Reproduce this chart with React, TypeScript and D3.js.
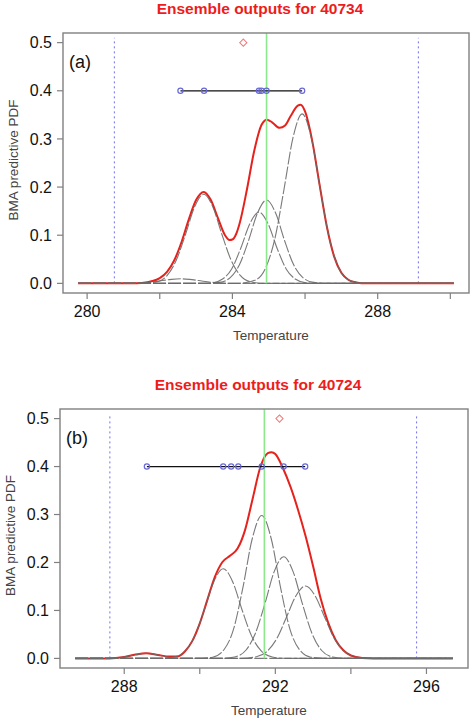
import React from "react";
import * as d3 from "d3";

type Pt = [number, number];

// ---- panel (a): station 40734 ----
const titleA = "Ensemble outputs for 40734";
const xTicksA = [280, 282, 284, 286, 288, 290];
const xLabelsA = [280, 284, 288];
const spanA: Pt = [279.75, 290.1];
const membersA = [282.57, 283.22, 284.73, 284.8, 284.94, 285.92];
const boundsA = [280.75, 289.12];
const obsA = 284.94;
const meanA = 284.3;

const redA: Pt[] = [
  [281.2, 0], [281.5, 0.001], [281.8, 0.005], [282.0, 0.011], [282.2, 0.024],
  [282.4, 0.048], [282.6, 0.086], [282.8, 0.133], [283.0, 0.173], [283.21, 0.19],
  [283.4, 0.174], [283.6, 0.136], [283.8, 0.0995], [283.92, 0.09], [284.0, 0.091],
  [284.1, 0.102], [284.2, 0.125], [284.4, 0.195], [284.6, 0.275], [284.8, 0.329],
  [284.95, 0.34], [285.1, 0.334], [285.3, 0.323], [285.45, 0.328], [285.6, 0.347],
  [285.8, 0.369], [285.88, 0.371], [286.0, 0.357], [286.2, 0.295], [286.4, 0.205],
  [286.6, 0.118], [286.8, 0.056], [287.0, 0.022], [287.2, 0.007], [287.4, 0.002],
  [287.7, 0],
];
const compsA: Pt[][] = [
  [[281.3, 0], [281.7, 0.0021], [282.07, 0.0058], [282.32, 0.0083], [282.57, 0.0095],
   [282.82, 0.0083], [283.07, 0.0058], [283.44, 0.0021], [283.84, 0]],
  [[281.51, 0], [281.91, 0.003], [282.21, 0.017], [282.46, 0.049], [282.71, 0.102],
   [282.96, 0.159], [283.21, 0.185], [283.46, 0.159], [283.71, 0.102], [283.96, 0.049],
   [284.21, 0.017], [284.51, 0.003], [284.91, 0]],
  [[283.03, 0], [283.43, 0.001], [283.73, 0.009], [283.98, 0.03], [284.23, 0.073],
   [284.48, 0.124], [284.73, 0.148], [284.98, 0.124], [285.23, 0.073], [285.48, 0.03],
   [285.73, 0.009], [286.03, 0.001], [286.43, 0]],
  [[283.24, 0], [283.64, 0.002], [283.94, 0.012], [284.19, 0.038], [284.44, 0.088],
   [284.69, 0.146], [284.94, 0.173], [285.19, 0.146], [285.44, 0.088], [285.69, 0.038],
   [285.94, 0.012], [286.24, 0.002], [286.64, 0]],
  [[283.82, 0], [284.22, 0.0004], [284.62, 0.0065], [284.92, 0.033], [285.17, 0.093],
   [285.42, 0.195], [285.67, 0.303], [285.92, 0.352], [286.17, 0.303], [286.42, 0.195],
   [286.67, 0.093], [286.92, 0.033], [287.22, 0.0065], [287.62, 0.0004], [288.02, 0]],
];

// ---- panel (b): station 40724 ----
const titleB = "Ensemble outputs for 40724";
const xTicksB = [288, 290, 292, 294, 296];
const xLabelsB = [288, 292, 296];
const spanB: Pt = [286.7, 296.7];
const membersB = [288.6, 290.62, 290.83, 291.02, 291.64, 292.22, 292.79];
const boundsB = [287.62, 295.74];
const obsB = 291.71;
const meanB = 292.11;

const redB: Pt[] = [
  [287.6, 0], [288.0, 0.003], [288.3, 0.008], [288.58, 0.0105], [288.9, 0.007],
  [289.2, 0.004], [289.4, 0.004], [289.6, 0.014], [289.8, 0.036], [290.0, 0.073],
  [290.2, 0.122], [290.4, 0.17], [290.6, 0.201], [290.8, 0.214], [291.0, 0.229],
  [291.2, 0.268], [291.4, 0.333], [291.6, 0.398], [291.8, 0.428], [291.9, 0.43],
  [292.0, 0.426], [292.2, 0.397], [292.4, 0.358], [292.6, 0.31], [292.8, 0.255],
  [293.0, 0.192], [293.2, 0.125], [293.4, 0.074], [293.6, 0.038], [293.8, 0.017],
  [294.0, 0.006], [294.3, 0.001], [294.6, 0],
];
const compsB: Pt[][] = [
  [[287.6, 0], [288.0, 0.003], [288.3, 0.008], [288.58, 0.0105], [288.9, 0.007],
   [289.2, 0.002], [289.6, 0]],
  [[288.92, 0], [289.32, 0.003], [289.62, 0.016], [289.87, 0.047], [290.12, 0.101],
   [290.37, 0.16], [290.62, 0.187], [290.87, 0.16], [291.12, 0.101], [291.37, 0.047],
   [291.62, 0.016], [291.92, 0.003], [292.32, 0]],
  [[289.94, 0], [290.34, 0.0025], [290.64, 0.018], [290.89, 0.06], [291.14, 0.147],
   [291.39, 0.25], [291.64, 0.298], [291.89, 0.25], [292.14, 0.147], [292.39, 0.06],
   [292.64, 0.018], [292.94, 0.0025], [293.34, 0]],
  [[290.52, 0], [290.92, 0.003], [291.22, 0.017], [291.47, 0.052], [291.72, 0.113],
   [291.97, 0.181], [292.22, 0.212], [292.47, 0.181], [292.72, 0.113], [292.97, 0.052],
   [293.22, 0.017], [293.52, 0.003], [293.92, 0]],
  [[291.1, 0], [291.5, 0.0035], [291.8, 0.016], [292.05, 0.043], [292.3, 0.087],
   [292.55, 0.131], [292.8, 0.151], [293.05, 0.131], [293.3, 0.087], [293.55, 0.043],
   [293.8, 0.016], [294.1, 0.0035], [294.5, 0]],
];

const yTicks = [0, 0.1, 0.2, 0.3, 0.4, 0.5];

const font = "'Liberation Sans', Arial, Helvetica, sans-serif";

function Panel(props: any) {
  const { title, tag, left, right, top, bottom, span, xTicks, xLabels,
    red, comps, members, bounds, obs, mean } = props;

  // R style 4% padding around data range
  const pad = (span[1] - span[0]) * 0.04;
  const x = d3.scaleLinear().domain([span[0] - pad, span[1] + pad]).range([left, right]);
  const y = d3.scaleLinear().domain([-0.02, 0.52]).range([bottom, top]);

  const line = d3.line<Pt>().x(d => x(d[0])).y(d => y(d[1])).curve(d3.curveMonotoneX);
  const full = (pts: Pt[]): Pt[] => [[span[0], 0], ...pts, [span[1], 0]];

  const cx = (left + right) / 2;
  const cy = (top + bottom) / 2;
  const diamond = d3.symbol(d3.symbolSquare, 26)();

  return (
    <g>
      <text x={cx - 6} y={top - 19} textAnchor="middle" fontSize={15.5} fontWeight="bold"
        fill="#ee1c1c" fontFamily={font}>{title}</text>

      {/* bounds */}
      {bounds.map((b: number, i: number) => (
        <line key={"b" + i} x1={x(b)} x2={x(b)} y1={y(0)} y2={y(0.51)}
          stroke="#6f6ff0" strokeWidth={1} strokeDasharray="2,3" />
      ))}

      {/* red BMA PDF first, components on top */}
      <path d={line(full(red)) || ""} fill="none" stroke="#e5221c" strokeWidth={2} />
      {comps.map((c: Pt[], i: number) => (
        <path key={"c" + i} d={line(full(c)) || ""} fill="none" stroke="#6a6a6a"
          strokeWidth={1.1} strokeDasharray="13,2" strokeOpacity={0.9} />
      ))}

      {/* observation */}
      <line x1={x(obs)} x2={x(obs)} y1={y(0)} y2={top} stroke="#8de88d" strokeWidth={1.6} />

      {/* ensemble members */}
      <line x1={x(d3.min(members) as number)} x2={x(d3.max(members) as number)}
        y1={y(0.4)} y2={y(0.4)} stroke="#111" strokeWidth={1.3} />
      {members.map((m: number, i: number) => (
        <circle key={"m" + i} cx={x(m)} cy={y(0.4)} r={2.6} fill="none"
          stroke="#6868d8" strokeWidth={1.2} />
      ))}

      <path d={diamond || ""} transform={`translate(${x(mean)},${y(0.5)}) rotate(45)`}
        fill="none" stroke="#ee7b7b" strokeWidth={1} />

      {/* box */}
      <rect x={left} y={top} width={right - left} height={bottom - top} fill="none"
        stroke="#808080" strokeWidth={1.4} />

      {/* y axis */}
      {yTicks.map(t => (
        <g key={"y" + t}>
          <line x1={left - 6} x2={left} y1={y(t)} y2={y(t)} stroke="#808080" strokeWidth={1.2} />
          <text x={left - 11} y={y(t) + 5.7} textAnchor="end" fontSize={16}
            fill="#111" fontFamily={font}>{t.toFixed(1)}</text>
        </g>
      ))}

      {/* x axis */}
      {xTicks.map((t: number) => (
        <g key={"x" + t}>
          <line x1={x(t)} x2={x(t)} y1={bottom} y2={bottom + 6} stroke="#808080" strokeWidth={1.2} />
          {xLabels.includes(t) && (
            <text x={x(t)} y={bottom + 24} textAnchor="middle" fontSize={16}
              fill="#111" fontFamily={font}>{t}</text>
          )}
        </g>
      ))}

      <text x={cx + 5} y={bottom + 47} textAnchor="middle" fontSize={13.5}
        fill="#444" fontFamily={font}>Temperature</text>
      <text transform={`translate(${left - 45},${cy - 3}) rotate(-90)`} textAnchor="middle"
        fontSize={13.5} fill="#444" fontFamily={font}>BMA predictive PDF</text>

      <text x={left + 6} y={top + 35} fontSize={18} fill="#111" fontFamily={font}>{tag}</text>
    </g>
  );
}

export default function App() {
  return (
    <div style={{ position: "absolute", left: 0, top: 0 }}>
      <svg width={473} height={725} style={{ display: "block", background: "#fff" }}>
        <Panel title={titleA} tag="(a)" left={63} right={469} top={33} bottom={293}
          span={spanA} xTicks={xTicksA} xLabels={xLabelsA} red={redA} comps={compsA}
          members={membersA} bounds={boundsA} obs={obsA} mean={meanA} />
        <Panel title={titleB} tag="(b)" left={60} right={468} top={409} bottom={668}
          span={spanB} xTicks={xTicksB} xLabels={xLabelsB} red={redB} comps={compsB}
          members={membersB} bounds={boundsB} obs={obsB} mean={meanB} />
      </svg>
    </div>
  );
}
